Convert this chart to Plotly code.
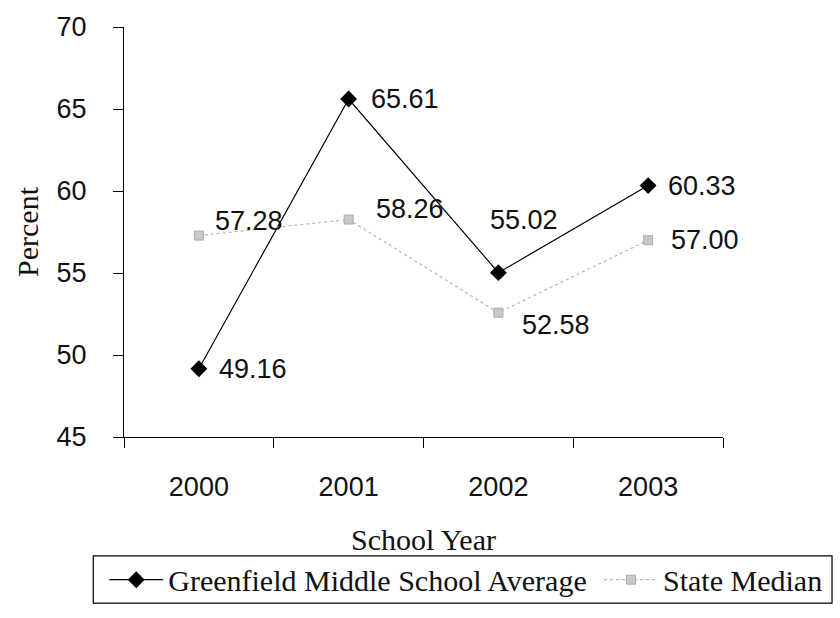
import plotly.graph_objects as go

years = ["2000", "2001", "2002", "2003"]
greenfield = [49.16, 65.61, 55.02, 60.33]
state_median = [57.28, 58.26, 52.58, 57.00]
series_names = ["Greenfield Middle School Average", "State Median"]
y_ticks = [45, 50, 55, 60, 65, 70]

# label offsets (px): (xshift of left edge, yshift up)
g_off = [(18, 0), (20, 0), (-10, 53), (18, 0)]
s_off = [(14, 15), (25, 11), (22, -12), (21, 0)]

fig = go.Figure()
fig.add_trace(go.Scatter(
    x=years, y=greenfield, name=series_names[0], mode="lines+markers",
    line=dict(color="#000000", width=1.2),
    marker=dict(symbol="diamond", size=13, color="#000000"),
    legend="legend",
))
fig.add_trace(go.Scatter(
    x=years, y=state_median, name=series_names[1], mode="lines+markers",
    line=dict(color="#b4b4b4", width=1.2, dash="dot"),
    marker=dict(symbol="square", size=9, color="#c8c8c8",
                line=dict(color="#aaaaaa", width=1)),
    legend="legend2",
))

lab_font = dict(family="Liberation Sans, Arial", size=27, color="#111111")
for vals, offs in ((greenfield, g_off), (state_median, s_off)):
    for i, (yv, (dx, dy)) in enumerate(zip(vals, offs)):
        fig.add_annotation(x=i, y=yv, text=f"{yv:.2f}", showarrow=False,
                           xanchor="left", yanchor="middle",
                           xshift=dx, yshift=dy, font=lab_font)

serif = "Liberation Serif, Times New Roman"
leg_font = dict(family=serif, size=30, color="#111111")
leg_common = dict(orientation="h", yanchor="middle", xanchor="left", y=-0.348,
                  borderwidth=0, bgcolor="rgba(0,0,0,0)", font=leg_font, itemwidth=54)

# legend frame
fig.add_shape(type="rect", xref="paper", yref="paper",
              x0=-0.0513, x1=1.182, y0=-0.405, y1=-0.290,
              line=dict(color="#000000", width=1.2), fillcolor="white", layer="below")

fig.update_layout(
    width=840, height=618,
    margin=dict(l=124, r=112, t=18, b=180),
    paper_bgcolor="white", plot_bgcolor="white",
    showlegend=True,
    legend=dict(x=-0.033, **leg_common),
    legend2=dict(x=0.793, **leg_common),
    xaxis=dict(type="category", categoryorder="array", categoryarray=years,
               range=[-0.5, 3.5], tickangle=0,
               showline=True, linecolor="#000000", linewidth=1.2,
               ticks="outside", tickson="boundaries", ticklen=10, tickcolor="#000000",
               showgrid=False, zeroline=False,
               tickfont=dict(family="Liberation Sans, Arial", size=27, color="#111111"),
               ticklabelstandoff=25,
               title=dict(text="School Year", font=dict(family=serif, size=30, color="#111111"),
                          standoff=28)),
    yaxis=dict(range=[45, 70], tickvals=y_ticks, showline=True, linecolor="#000000",
               linewidth=1.2, ticks="outside", ticklen=10, tickcolor="#000000",
               showgrid=False, zeroline=False,
               tickfont=dict(family="Liberation Sans, Arial", size=27, color="#111111"),
               ticklabelstandoff=21,
               title=dict(text="Percent", font=dict(family=serif, size=30, color="#111111"),
                          standoff=8)),
)

fig.write_html("out.html")
